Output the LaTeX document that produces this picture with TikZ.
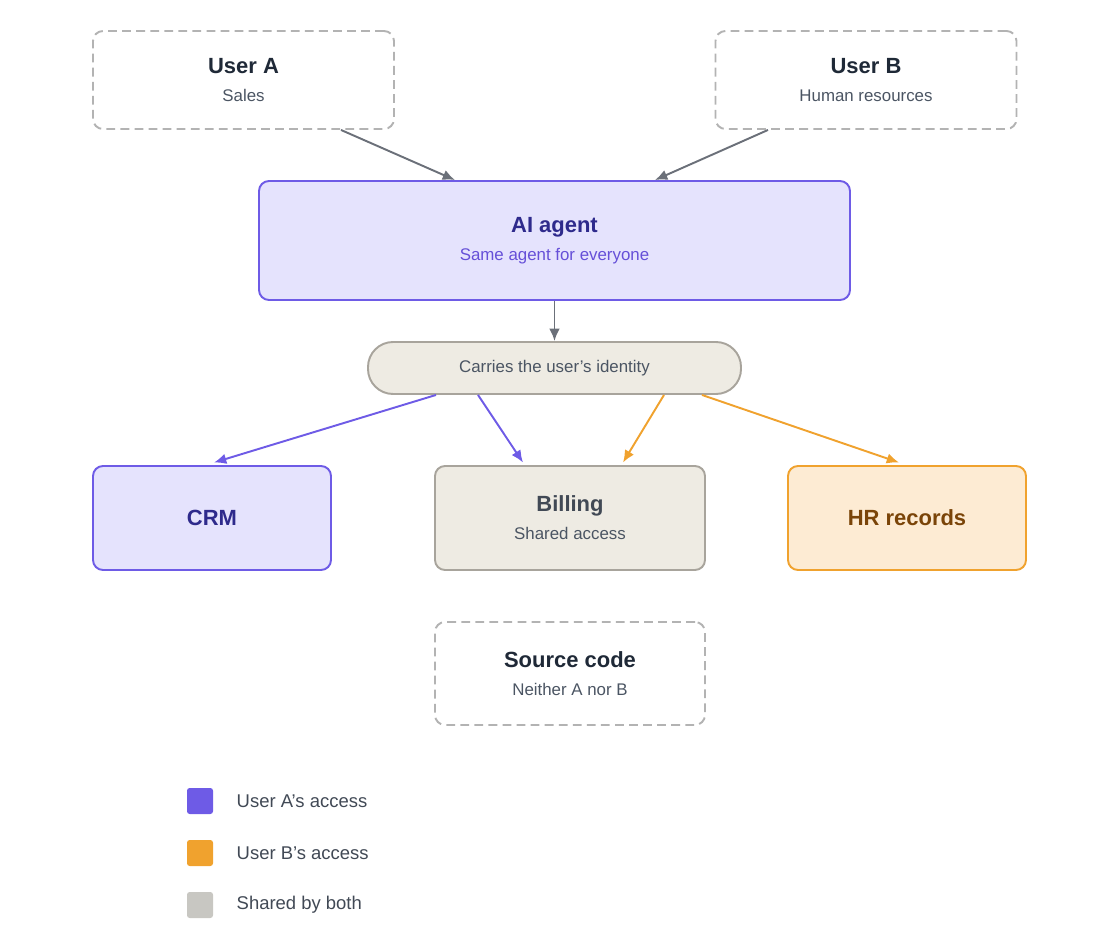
\documentclass[tikz,border=0pt]{standalone}
\usepackage{fontspec}
\setmainfont{Liberation Sans}
\usetikzlibrary{positioning,arrows.meta}
\definecolor{agentline}{HTML}{6E5BE6}
\definecolor{agentfill}{HTML}{E5E3FD}
\definecolor{agenttext}{HTML}{2E2A8C}
\definecolor{agentsub}{HTML}{6650D8}
\definecolor{sharedfill}{HTML}{EEEBE3}
\definecolor{sharedline}{HTML}{A8A49C}
\definecolor{hrline}{HTML}{F0A22E}
\definecolor{hrfill}{HTML}{FDEBD3}
\definecolor{hrtext}{HTML}{7A4408}
\definecolor{dashline}{HTML}{B3B3B3}
\definecolor{arrowgrey}{HTML}{6B7079}
\definecolor{darktext}{HTML}{1F2937}
\definecolor{subtext}{HTML}{4B5563}
\definecolor{legendgrey}{HTML}{C8C7C2}
\newcommand{\titlef}{\fontsize{12.5}{14}\selectfont\bfseries}
\newcommand{\subf}{\fontsize{9.6}{12}\selectfont}
\tikzset{
  box/.style={draw, line width=1.1pt, rounded corners=0.2cm, align=center, inner sep=0pt},
  userbox/.style={box, draw=dashline, dashed, dash pattern=on 5pt off 3pt, text=darktext, minimum width=6.02cm, minimum height=1.96cm},
  arr/.style={-{Latex[length=7pt,width=6pt]}, line width=1.1pt},
}
\begin{document}
\begin{tikzpicture}
\useasboundingbox (0,0) rectangle (22.4,-18.66);
% users
\node[userbox] (ua) at (4.87,-1.6) {{\titlef User A}\\[4pt]{\subf\color{subtext}Sales}};
\node[userbox] (ub) at (17.32,-1.6) {{\titlef User B}\\[4pt]{\subf\color{subtext}Human resources}};
% agent
\node[box, draw=agentline, fill=agentfill, minimum width=11.82cm, minimum height=2.38cm] (agent) at (11.09,-4.81)
  {{\titlef\color{agenttext}AI agent}\\[4pt]{\subf\color{agentsub}Same agent for everyone}};
\node[box, draw=sharedline, fill=sharedfill, rounded corners=0.5cm, minimum width=7.46cm, minimum height=1.04cm] (ident) at (11.09,-7.36)
  {\subf\color{subtext}Carries the user's identity};
% systems
\node[box, draw=agentline, fill=agentfill, minimum width=4.76cm, minimum height=2.08cm] (crm) at (4.24,-10.36)
  {\titlef\color{agenttext}CRM};
\node[box, draw=sharedline, fill=sharedfill, minimum width=5.4cm, minimum height=2.08cm] (billing) at (11.4,-10.36)
  {{\titlef\color{darktext!85}Billing}\\[4pt]{\subf\color{subtext}Shared access}};
\node[box, draw=hrline, fill=hrfill, minimum width=4.76cm, minimum height=2.08cm] (hr) at (18.14,-10.36)
  {\titlef\color{hrtext}HR records};
\node[userbox, minimum width=5.4cm, minimum height=2.06cm] (src) at (11.4,-13.47)
  {{\titlef Source code}\\[4pt]{\subf\color{subtext}Neither A nor B}};
% arrows
\draw[arr, arrowgrey] ([xshift=1.95cm]ua.south) -- ([xshift=-1.99cm]agent.north);
\draw[arr, arrowgrey] ([xshift=-1.96cm]ub.south) -- ([xshift=2.01cm]agent.north);
\draw[arr, arrowgrey] (agent.south) -- (ident.north);
\draw[arr, agentline] ([xshift=-2.37cm]ident.south) -- ([xshift=0.04cm,yshift=0.05cm]crm.north);
\draw[arr, agentline] ([xshift=-1.53cm]ident.south) -- ([xshift=-0.94cm,yshift=0.05cm]billing.north);
\draw[arr, hrline] ([xshift=2.19cm]ident.south) -- ([xshift=1.06cm,yshift=0.05cm]billing.north);
\draw[arr, hrline] ([xshift=2.95cm]ident.south) -- ([xshift=-0.16cm,yshift=0.05cm]hr.north);
% legend
\foreach \col/\txt/\y [count=\i] in {agentline/User A's access/-16.02, hrline/User B's access/-17.06, legendgrey/Shared by both/-18.1} {
  \node[fill=\col, rounded corners=1.5pt, minimum size=0.52cm, inner sep=0pt] (key\i) at (4,\y) {};
  \node[right=0.46cm of key\i, inner sep=0pt, text=darktext!85] (lab\i) {\fontsize{10.5}{12}\selectfont\txt};
}
\end{tikzpicture}
\end{document}
